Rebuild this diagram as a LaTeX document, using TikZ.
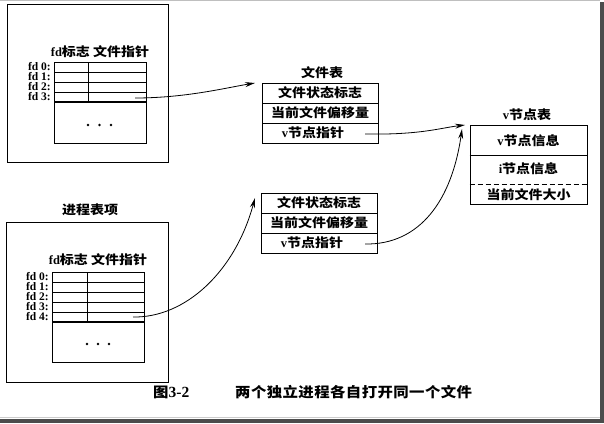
\documentclass[tikz,border=0pt]{standalone}
\usepackage{fontspec}
\setmainfont{Liberation Serif}
\newfontfamily\cjk[FakeStretch=1.12]{Noto Sans CJK SC}
\newfontfamily\cjkcap[FakeStretch=1.1,LetterSpace=3]{Noto Sans CJK SC}
\newfontfamily\cjkplain[FakeStretch=1.1]{Noto Sans CJK SC}
\usetikzlibrary{arrows.meta}
\tikzset{
  fdlab/.style={font=\bfseries\fontsize{11.5}{12}\selectfont, inner sep=0pt, anchor=east},
  ttl/.style={font=\cjk\bfseries\fontsize{12.5}{13}\selectfont, inner sep=0pt},
  rowbox/.style={draw, line width=0.8pt, minimum width=116pt, minimum height=20pt, inner sep=0pt},
  rowtxt/.style={font=\cjk\bfseries\fontsize{12.5}{13}\selectfont, inner sep=0pt},
  frame/.style={line width=0.8pt},
  arr/.style={-{Stealth[length=10pt,width=5pt]}, line width=0.8pt},
  dotm/.style={circle, fill, inner sep=0pt, minimum size=2.8pt},
}
\begin{document}
\begin{tikzpicture}[x=1pt,y=-1pt]
\useasboundingbox (0,0) rectangle (604,423);
\fill[white] (0,0) rectangle (604,423);
% scan frame
\draw[black!25, line width=1pt] (0,0.5) -- (600,0.5);
\fill[black!70] (600,2) rectangle (604,423);
\fill[black!70] (0,419) rectangle (604,423);
\draw[black!20, line width=1pt] (0,417.5) -- (600,417.5);

% ---------- process 1 ----------
\node[draw, frame, minimum width=161pt, minimum height=158pt, inner sep=0pt] (pa) at (87.5,83) {};
\node[ttl] (pah) at (100,52) {{\rmfamily fd}标志\ 文件指针};
\draw[frame] (54,62) rectangle (146,143);
\foreach \yy in {72.5,82,92} \draw[line width=0.7pt] (54,\yy) -- (146,\yy);
\draw[line width=1.2pt] (54,102) -- (146,102);
\draw[line width=0.7pt] (88,62) -- (88,102);
\node[fdlab] (pa0) at (51,67) {fd 0:};
\node[fdlab] (pa1) at (51,77) {fd 1:};
\node[fdlab] (pa2) at (51,87) {fd 2:};
\node[fdlab] (pa3) at (51,97) {fd 3:};
\node[dotm] (pad1) at (88,125) {};
\node[dotm] (pad2) at (99.5,125) {};
\node[dotm] (pad3) at (111,125) {};
\coordinate (pas) at (135,98);

% ---------- process 2 ----------
\node[ttl] (pbt) at (90,210) {进程表项};
\node[draw, frame, minimum width=162pt, minimum height=160pt, inner sep=0pt] (pb) at (87,302) {};
\node[ttl] (pbh) at (98,260) {{\rmfamily fd}标志\ 文件指针};
\draw[frame] (52,272) rectangle (144,362);
\foreach \yy in {282,292,302,312} \draw[line width=0.7pt] (52,\yy) -- (144,\yy);
\draw[line width=1.2pt] (52,322) -- (144,322);
\draw[line width=0.7pt] (87,272) -- (87,322);
\node[fdlab] (pb0) at (49,277) {fd 0:};
\node[fdlab] (pb1) at (49,287) {fd 1:};
\node[fdlab] (pb2) at (49,297) {fd 2:};
\node[fdlab] (pb3) at (49,307) {fd 3:};
\node[fdlab] (pb4) at (49,317) {fd 4:};
\node[dotm] (pbd1) at (87,344) {};
\node[dotm] (pbd2) at (98,344) {};
\node[dotm] (pbd3) at (109,344) {};
\coordinate (pbs) at (133,317);

% ---------- file table 1 ----------
\node[ttl] (fat) at (322,73) {文件表};
\node[rowbox] (fa1) at (320,93) {};
\node[rowbox] (fa2) at (320,113) {};
\node[rowbox] (fa3) at (320,133) {};
\node[rowtxt] (fa1t) at (fa1) {文件状态标志};
\node[rowtxt] (fa2t) at (fa2) {当前文件偏移量};
\node[rowtxt] (fa3t) at (313,133) {{\rmfamily\bfseries v}节点指针};
\coordinate (fas) at (365,134);
\coordinate (fain) at (255,83);

% ---------- file table 2 ----------
\node[rowbox] (fb1) at (319,203) {};
\node[rowbox] (fb2) at (319,223) {};
\node[rowbox] (fb3) at (319,243) {};
\node[rowtxt] (fb1t) at (fb1) {文件状态标志};
\node[rowtxt] (fb2t) at (fb2) {当前文件偏移量};
\node[rowtxt] (fb3t) at (312,243) {{\rmfamily\bfseries v}节点指针};
\coordinate (fbs) at (365,244);
\coordinate (fbin) at (255,198);

% ---------- v-node table ----------
\node[ttl] (vtt) at (527,115) {{\rmfamily v}节点表};
\node[draw, frame, minimum width=117pt, minimum height=79pt, inner sep=0pt] (vt) at (528.5,164.5) {};
\draw[line width=0.8pt] (vt.west |- 0,155) -- (vt.east |- 0,155);
\draw[line width=0.8pt, dash pattern=on 5pt off 3pt] (vt.west |- 0,184) -- (vt.east |- 0,184);
\node[rowtxt] (vt1) at (528.5,141) {{\rmfamily\bfseries v}节点信息};
\node[rowtxt] (vt2) at (528.5,169) {{\rmfamily\bfseries i}节点信息};
\node[rowtxt] (vt3) at (528.5,195) {当前文件大小};
\coordinate (vina) at (465,125);
\coordinate (vinb) at (462,129);

% ---------- arrows ----------
\draw[arr] (pas) .. controls (185,98) and (225,88) .. (fain);
\draw[arr] (pbs) .. controls (185,318) and (235,272) .. (fbin);
\draw[arr] (fas) .. controls (420,135) and (440,128) .. (vina);
\draw[arr] (fbs) .. controls (420,245) and (452,200) .. (vinb);

% ---------- caption ----------
\node[inner sep=0pt, anchor=west] (capa) at (153,392) {\cjkplain\bfseries\fontsize{14}{14}\selectfont 图{\rmfamily\bfseries\fontsize{15.5}{15}\selectfont 3-2}};
\node[inner sep=0pt, anchor=west] (capb) at (235,392) {\cjkcap\bfseries\fontsize{14}{14}\selectfont 两个独立进程各自打开同一个文件};
\end{tikzpicture}
\end{document}
